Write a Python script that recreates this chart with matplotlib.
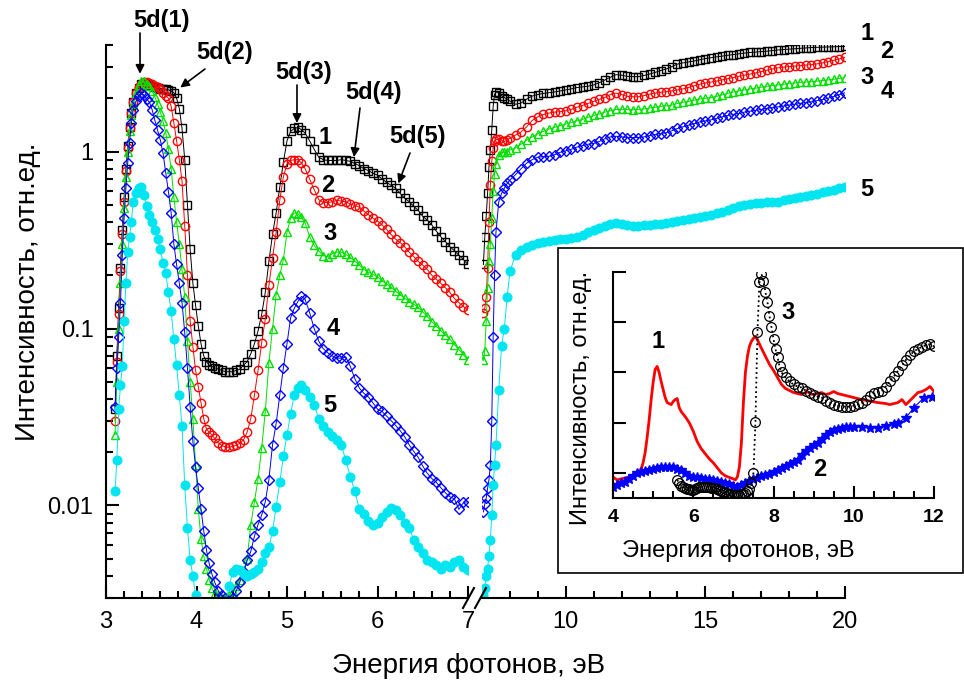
import matplotlib
matplotlib.use("Agg")
import matplotlib.pyplot as plt
from matplotlib.patches import Rectangle
from matplotlib.lines import Line2D
from matplotlib.ticker import LogLocator, FixedLocator, MultipleLocator, NullFormatter

plt.rcParams['font.family'] = ['Liberation Sans', 'DejaVu Sans']

# ---- main plot, low energy part (3 - 7 eV) ----
e_low = [3.10, 3.12, 3.14, 3.16, 3.18, 3.20, 3.22, 3.24, 3.26, 3.28, 3.30,
         3.33, 3.36, 3.39, 3.42, 3.45, 3.48, 3.51, 3.54, 3.57, 3.60,
         3.63, 3.66, 3.69, 3.72, 3.75, 3.78, 3.81, 3.84, 3.87, 3.90,
         3.93, 3.96, 3.99, 4.02, 4.05, 4.08, 4.11, 4.14, 4.17, 4.20,
         4.24, 4.28, 4.32, 4.36, 4.40, 4.44, 4.48, 4.52, 4.56, 4.60,
         4.64, 4.68, 4.72, 4.76, 4.80, 4.84, 4.88, 4.92, 4.96, 5.00,
         5.04, 5.08, 5.12, 5.16, 5.20,
         5.25, 5.30, 5.35, 5.40, 5.45, 5.50, 5.55, 5.60, 5.65, 5.70,
         5.75, 5.80, 5.85, 5.90, 5.95, 6.00, 6.05, 6.10, 6.15, 6.20,
         6.25, 6.30, 6.35, 6.40, 6.45, 6.50, 6.55, 6.60, 6.65, 6.70,
         6.75, 6.80, 6.85, 6.90, 6.95, 7.00]

i1_low = [0.035, 0.07, 0.13, 0.22, 0.36, 0.55, 0.80, 1.08, 1.38, 1.65, 1.90,
          2.15, 2.30, 2.40, 2.42, 2.40, 2.38, 2.35, 2.31, 2.28, 2.27,
          2.26, 2.25, 2.23, 2.20, 2.15, 2.00, 1.75, 1.35, 0.90, 0.50,
          0.28, 0.18, 0.135, 0.103, 0.082, 0.070, 0.065, 0.062, 0.061, 0.060,
          0.059, 0.058, 0.057, 0.057, 0.057, 0.058, 0.059, 0.062, 0.065, 0.072,
          0.082, 0.097, 0.12, 0.16, 0.24, 0.34, 0.45, 0.63, 0.87, 1.15,
          1.30, 1.35, 1.37, 1.33, 1.27,
          1.15, 1.03, 0.93, 0.90, 0.89, 0.89, 0.89, 0.90, 0.89, 0.88,
          0.855, 0.83, 0.80, 0.78, 0.755, 0.735, 0.70, 0.67, 0.645, 0.62,
          0.58, 0.545, 0.52, 0.49, 0.465, 0.43, 0.41, 0.385, 0.355, 0.33,
          0.31, 0.29, 0.275, 0.26, 0.245, 0.23]

i2_low = [0.03, 0.065, 0.12, 0.21, 0.34, 0.52, 0.78, 1.05, 1.35, 1.65, 1.90,
          2.15, 2.32, 2.42, 2.48, 2.46, 2.43, 2.40, 2.36, 2.32, 2.25,
          2.15, 2.07, 2.00, 1.80, 1.45, 1.15, 0.90, 0.68, 0.38, 0.20,
          0.11, 0.079, 0.058, 0.047, 0.038, 0.031, 0.027, 0.026, 0.025, 0.024,
          0.0226, 0.0218, 0.0214, 0.0213, 0.0216, 0.0219, 0.0225, 0.0235, 0.026, 0.031,
          0.042, 0.058, 0.083, 0.113, 0.175, 0.25, 0.35, 0.53, 0.72, 0.85,
          0.89, 0.90, 0.90, 0.86, 0.80,
          0.70, 0.61, 0.535, 0.515, 0.515, 0.52, 0.53, 0.525, 0.52, 0.505,
          0.495, 0.485, 0.46, 0.44, 0.42, 0.405, 0.385, 0.363, 0.34, 0.32,
          0.306, 0.29, 0.27, 0.255, 0.24, 0.228, 0.216, 0.20, 0.19, 0.18,
          0.17, 0.16, 0.148, 0.14, 0.133, 0.127]

i3_low = [0.025, 0.05, 0.10, 0.18, 0.30, 0.48, 0.72, 1.00, 1.30, 1.60, 1.85,
          2.15, 2.38, 2.52, 2.50, 2.42, 2.35, 2.20, 2.04, 1.85, 1.68,
          1.48, 1.28, 1.03, 0.80, 0.55, 0.40, 0.30, 0.216, 0.15, 0.085,
          0.05, 0.031, 0.017, 0.0095, 0.0065, 0.0052, 0.0044, 0.0038, 0.0034, 0.0032,
          0.0031, 0.0030, 0.0030, 0.0031, 0.0033, 0.0035, 0.0038, 0.0043, 0.0050, 0.0078,
          0.0105, 0.0141, 0.021, 0.034, 0.064, 0.10, 0.155, 0.20, 0.245, 0.35,
          0.42, 0.45, 0.445, 0.425, 0.395,
          0.33, 0.295, 0.275, 0.258, 0.255, 0.265, 0.27, 0.27, 0.262, 0.252,
          0.24, 0.228, 0.215, 0.208, 0.202, 0.196, 0.186, 0.178, 0.172, 0.162,
          0.155, 0.148, 0.142, 0.137, 0.132, 0.124, 0.117, 0.109, 0.103, 0.097,
          0.092, 0.087, 0.081, 0.076, 0.071, 0.066]

i4_low = [0.036, 0.06, 0.09, 0.14, 0.26, 0.42, 0.62, 0.86, 1.12, 1.45, 1.72,
          1.92, 2.06, 2.14, 2.08, 1.98, 1.90, 1.72, 1.50, 1.32, 1.16,
          0.98, 0.76, 0.59, 0.45, 0.30, 0.23, 0.18, 0.14, 0.095, 0.06,
          0.036, 0.023, 0.0165, 0.0125, 0.0095, 0.0072, 0.0056, 0.0047, 0.0041, 0.0037,
          0.0033, 0.0031, 0.0030, 0.0029, 0.0030, 0.0033, 0.0037, 0.0042, 0.0049, 0.0055,
          0.0067, 0.0078, 0.0088, 0.0105, 0.014, 0.022, 0.029, 0.042, 0.06, 0.082,
          0.115, 0.13, 0.142, 0.152, 0.146,
          0.123, 0.10, 0.085, 0.077, 0.073, 0.07, 0.068, 0.068, 0.069, 0.061,
          0.052, 0.046, 0.043, 0.041, 0.038, 0.035, 0.034, 0.032, 0.0302, 0.0283,
          0.0265, 0.0245, 0.022, 0.0202, 0.0187, 0.0167, 0.0152, 0.0142, 0.0135, 0.0126,
          0.0118, 0.0112, 0.0109, 0.0095, 0.0104, 0.0105]

i5_low = [0.012, 0.018, 0.035, 0.048, 0.061, 0.11, 0.18, 0.27, 0.33, 0.40, 0.52,
          0.58, 0.62, 0.63, 0.57, 0.49, 0.44, 0.40, 0.36, 0.32, 0.28,
          0.236, 0.205, 0.16, 0.125, 0.087, 0.062, 0.042, 0.028, 0.013, 0.0075,
          0.0049, 0.004, 0.0031, 0.0027, 0.0024, 0.0022, 0.0020, 0.0019, 0.0019, 0.0019,
          0.0020, 0.0023, 0.0028, 0.0035, 0.0042, 0.0044, 0.0043, 0.0041, 0.0040, 0.0041,
          0.0042, 0.0044, 0.0048, 0.0054, 0.0058, 0.0072, 0.0098, 0.0135, 0.019, 0.025,
          0.033, 0.042, 0.046, 0.048, 0.045,
          0.041, 0.037, 0.031, 0.028, 0.026, 0.0248, 0.0235, 0.022, 0.018, 0.0145,
          0.012, 0.0095, 0.009, 0.0082, 0.0078, 0.008, 0.0086, 0.0092, 0.0097, 0.0094,
          0.0088, 0.008, 0.0075, 0.0064, 0.0058, 0.0054, 0.0049, 0.0048, 0.0046, 0.0044,
          0.0046, 0.0045, 0.0048, 0.0049, 0.0045, 0.0043]

# ---- main plot, high energy part (7 - 20 eV) ----
e_high = [7.05, 7.10, 7.15, 7.20, 7.25, 7.30, 7.35, 7.40, 7.45, 7.50, 7.60, 7.70, 7.80, 7.90, 8.00,
          8.2, 8.4, 8.6, 8.8, 9.0, 9.2, 9.4, 9.6, 9.8, 10.0,
          10.2, 10.4, 10.6, 10.8, 11.0, 11.2, 11.4, 11.6, 11.8, 12.0,
          12.2, 12.4, 12.6, 12.8, 13.0, 13.2, 13.4, 13.6, 13.8, 14.0,
          14.2, 14.4, 14.6, 14.8, 15.0, 15.2, 15.4, 15.6, 15.8, 16.0,
          16.2, 16.4, 16.6, 16.8, 17.0, 17.2, 17.4, 17.6, 17.8, 18.0,
          18.2, 18.4, 18.6, 18.8, 19.0, 19.2, 19.4, 19.6, 19.8, 20.0]

i1_high = [0.23, 0.33, 0.43, 0.58, 0.82, 1.02, 1.33, 1.80, 2.10, 2.17, 2.15, 2.07, 2.02, 1.98, 1.93,
           1.85, 1.88, 1.98, 2.06, 2.10, 2.13, 2.15, 2.17, 2.20, 2.23,
           2.26, 2.30, 2.32, 2.34, 2.38, 2.45, 2.54, 2.63, 2.72, 2.70,
           2.66, 2.65, 2.65, 2.69, 2.74, 2.80, 2.87, 2.93, 3.02, 3.12,
           3.17, 3.21, 3.25, 3.30, 3.35, 3.39, 3.43, 3.46, 3.50, 3.53,
           3.57, 3.60, 3.63, 3.65, 3.67, 3.69, 3.72, 3.75, 3.77, 3.79,
           3.81, 3.83, 3.85, 3.87, 3.88, 3.89, 3.90, 3.91, 3.92, 3.93]

i2_high = [0.123, 0.13, 0.15, 0.22, 0.40, 0.65, 0.88, 1.05, 1.15, 1.17, 1.17, 1.15, 1.14, 1.16, 1.19,
           1.24, 1.29, 1.38, 1.50, 1.57, 1.62, 1.65, 1.67, 1.68, 1.70,
           1.73, 1.78, 1.82, 1.87, 1.92, 1.97, 2.02, 2.10, 2.14, 2.10,
           2.05, 2.04, 2.04, 2.07, 2.11, 2.14, 2.16, 2.18, 2.20, 2.23,
           2.26, 2.30, 2.35, 2.40, 2.44, 2.47, 2.50, 2.54, 2.58, 2.62,
           2.66, 2.70, 2.74, 2.78, 2.83, 2.88, 2.93, 2.97, 3.00, 3.02,
           3.04, 3.06, 3.08, 3.10, 3.13, 3.17, 3.22, 3.28, 3.34, 3.40]

i3_high = [0.066, 0.075, 0.11, 0.17, 0.24, 0.30, 0.42, 0.60, 0.75, 0.85, 0.95, 0.99, 0.99, 1.00, 1.02,
           1.05, 1.10, 1.16, 1.21, 1.26, 1.30, 1.34, 1.37, 1.40, 1.43,
           1.46, 1.49, 1.52, 1.56, 1.60, 1.63, 1.67, 1.70, 1.73, 1.73,
           1.73, 1.72, 1.73, 1.74, 1.76, 1.78, 1.80, 1.81, 1.83, 1.87,
           1.90, 1.92, 1.95, 1.98, 2.00, 2.02, 2.05, 2.09, 2.13, 2.17,
           2.20, 2.23, 2.26, 2.28, 2.31, 2.34, 2.36, 2.38, 2.40, 2.42,
           2.44, 2.46, 2.47, 2.48, 2.50, 2.52, 2.54, 2.56, 2.59, 2.62]

i4_high = [0.0092, 0.0102, 0.011, 0.0125, 0.014, 0.017, 0.03, 0.09, 0.20, 0.35, 0.52, 0.58, 0.62, 0.66, 0.69,
           0.74, 0.80, 0.86, 0.90, 0.93, 0.935, 0.94, 0.96, 0.99, 1.01,
           1.03, 1.06, 1.08, 1.10, 1.11, 1.14, 1.18, 1.21, 1.22, 1.21,
           1.20, 1.20, 1.20, 1.21, 1.23, 1.25, 1.26, 1.28, 1.31, 1.35,
           1.38, 1.41, 1.44, 1.47, 1.49, 1.51, 1.54, 1.57, 1.60, 1.62,
           1.64, 1.67, 1.69, 1.71, 1.73, 1.75, 1.77, 1.79, 1.81, 1.83,
           1.85, 1.87, 1.89, 1.91, 1.94, 1.97, 2.00, 2.05, 2.10, 2.15]

i5_high = [0.0031, 0.0034, 0.0040, 0.0044, 0.0052, 0.0064, 0.0088, 0.013, 0.017, 0.022, 0.045, 0.08, 0.10, 0.15, 0.21,
           0.26, 0.278, 0.29, 0.298, 0.303, 0.308, 0.313, 0.317, 0.32, 0.322,
           0.325, 0.33, 0.338, 0.35, 0.36, 0.37, 0.38, 0.39, 0.395, 0.39,
           0.385, 0.38, 0.382, 0.385, 0.387, 0.388, 0.39, 0.393, 0.398, 0.403,
           0.41, 0.415, 0.42, 0.428, 0.435, 0.44, 0.447, 0.455, 0.465, 0.478,
           0.49, 0.50, 0.505, 0.51, 0.515, 0.518, 0.52, 0.522, 0.53, 0.54,
           0.548, 0.555, 0.563, 0.57, 0.578, 0.588, 0.598, 0.61, 0.62, 0.63]

# ---- inset ----
ins_e1 = [4.0, 4.1, 4.2, 4.3, 4.4, 4.5, 4.6, 4.7, 4.75, 4.8, 4.85, 4.9, 4.95, 5.0, 5.05, 5.1, 5.15, 5.2,
          5.25, 5.3, 5.35, 5.4, 5.45, 5.5, 5.55, 5.6, 5.65, 5.7, 5.8, 5.9, 6.0, 6.1, 6.2, 6.3, 6.4,
          6.5, 6.6, 6.7, 6.8, 6.9, 7.0, 7.05, 7.1, 7.15, 7.2, 7.25, 7.3, 7.35, 7.4, 7.45, 7.5, 7.55,
          7.6, 7.7, 7.8, 7.9, 8.0, 8.1, 8.2, 8.3, 8.4, 8.5, 8.6, 8.7, 8.8, 8.85, 8.9, 9.0, 9.1, 9.2,
          9.3, 9.4, 9.5, 9.6, 9.7, 9.8, 9.9, 10.0, 10.2, 10.4, 10.6, 10.8, 10.9, 11.0, 11.1, 11.2,
          11.3, 11.4, 11.5, 11.6, 11.7, 11.8, 11.9, 12.0]
ins_i1 = [0.42, 0.36, 0.38, 0.40, 0.42, 0.45, 0.50, 0.58, 0.70, 0.90, 1.20, 1.55, 1.95, 2.30, 2.56, 2.62, 2.50, 2.32,
          2.16, 2.00, 1.90, 1.88, 1.86, 1.92, 1.96, 1.98, 1.80, 1.72, 1.62, 1.50, 1.33, 1.12, 0.98, 0.88, 0.78,
          0.70, 0.60, 0.50, 0.44, 0.41, 0.38, 0.36, 0.42, 0.62, 1.10, 1.90, 2.50, 2.82, 3.02, 3.12, 3.18, 3.22,
          3.15, 2.98, 2.82, 2.66, 2.54, 2.40, 2.26, 2.18, 2.14, 2.10, 2.08, 2.06, 2.10, 2.12, 2.08, 2.06, 2.08, 2.10,
          2.06, 2.08, 2.12, 2.08, 2.06, 2.04, 2.02, 2.00, 1.96, 1.93, 1.90, 1.88, 1.86, 1.88, 1.90, 1.96,
          1.86, 1.94, 2.02, 2.10, 2.12, 2.16, 2.22, 2.12]

ins_e2 = [4.0, 4.1, 4.2, 4.3, 4.4, 4.5, 4.6, 4.7, 4.8, 4.9, 5.0, 5.1, 5.2, 5.3, 5.4, 5.5, 5.6, 5.7,
          5.8, 5.9, 6.0, 6.1, 6.2, 6.3, 6.4, 6.5, 6.6, 6.7, 6.8, 6.9, 7.0, 7.1, 7.2, 7.3, 7.4, 7.5,
          7.6, 7.7, 7.8, 7.9, 8.0, 8.1, 8.2, 8.3, 8.4, 8.5, 8.6, 8.7, 8.8, 8.9, 9.0, 9.1, 9.2, 9.3,
          9.4, 9.5, 9.6, 9.7, 9.8, 9.9, 10.0, 10.2, 10.4, 10.6, 10.8, 11.0, 11.1, 11.3, 11.5, 11.75, 11.95]
ins_i2 = [0.22, 0.26, 0.29, 0.32, 0.37, 0.44, 0.50, 0.52, 0.54, 0.56, 0.58, 0.60, 0.62, 0.62, 0.62, 0.61, 0.58, 0.55,
          0.50, 0.44, 0.42, 0.41, 0.40, 0.38, 0.37, 0.36, 0.34, 0.32, 0.30, 0.27, 0.24, 0.22, 0.26, 0.30, 0.33, 0.37,
          0.40, 0.43, 0.45, 0.48, 0.52, 0.56, 0.60, 0.64, 0.68, 0.72, 0.76, 0.86, 0.94, 1.00, 1.05, 1.10, 1.18, 1.25,
          1.31, 1.35, 1.38, 1.40, 1.41, 1.42, 1.42, 1.42, 1.40, 1.40, 1.43, 1.47, 1.50, 1.60, 1.80, 2.00, 2.02]

ins_e3 = [5.6, 5.65, 5.7, 5.75, 5.8, 5.85, 5.9, 5.95, 6.0, 6.05, 6.1, 6.15, 6.2, 6.25, 6.3, 6.35, 6.4, 6.45,
          6.5, 6.55, 6.6, 6.65, 6.7, 6.75, 6.8, 6.85, 6.9, 6.95, 7.0, 7.05, 7.1, 7.15, 7.2, 7.25, 7.3, 7.35,
          7.4, 7.45, 7.5, 7.55, 7.6, 7.65, 7.7, 7.75, 7.8, 7.85, 7.9, 7.95, 8.0, 8.05, 8.1, 8.15, 8.2, 8.3,
          8.4, 8.5, 8.6, 8.7, 8.8, 8.9, 9.0, 9.1, 9.2, 9.3, 9.4, 9.5, 9.6, 9.7, 9.8, 9.9, 10.0, 10.1,
          10.2, 10.3, 10.4, 10.5, 10.6, 10.7, 10.8, 10.9, 11.0, 11.1, 11.2, 11.3, 11.4, 11.5, 11.6, 11.7,
          11.8, 11.9, 12.0]
ins_i3 = [0.36, 0.30, 0.24, 0.22, 0.20, 0.18, 0.17, 0.16, 0.16, 0.18, 0.20, 0.21, 0.22, 0.22, 0.21, 0.22, 0.21, 0.20,
          0.20, 0.19, 0.17, 0.16, 0.14, 0.12, 0.11, 0.10, 0.08, 0.07, 0.06, 0.06, 0.06, 0.06, 0.07, 0.08, 0.10, 0.13,
          0.18, 0.30, 0.50, 1.52, 3.30, 4.30, 4.46, 4.32, 4.10, 3.90, 3.62, 3.40, 3.16, 2.96, 2.80, 2.62, 2.50, 2.40,
          2.32, 2.26, 2.22, 2.20, 2.14, 2.10, 2.06, 2.02, 2.00, 1.94, 1.90, 1.86, 1.84, 1.82, 1.82, 1.82, 1.84, 1.87,
          1.90, 1.96, 2.03, 2.10, 2.12, 2.14, 2.22, 2.32, 2.42, 2.53, 2.64, 2.75, 2.84, 2.92, 2.97, 3.01,
          3.05, 3.06, 3.02]

W, H = 964, 690


def fx(x):
    return x / W


def fy(y):
    return 1 - y / H


fig = plt.figure(figsize=(W / 100, H / 100), dpi=100)

ax1 = fig.add_axes([fx(106), fy(598), (468 - 106) / W, (598 - 45) / H])
ax2 = fig.add_axes([fx(482), fy(598), (845 - 482) / W, (598 - 45) / H])

styles = [
    dict(color='black', marker='s', mfc='none', ms=5.3),
    dict(color='#ff0000', marker='o', mfc='none', ms=6.0),
    dict(color='#00e000', marker='^', mfc='none', ms=6.4),
    dict(color='#0000ff', marker='D', mfc='none', ms=5.6),
    dict(color='#00e5f0', marker='o', mfc='#00e5f0', ms=6.2),
]
lows = [i1_low, i2_low, i3_low, i4_low, i5_low]
highs = [i1_high, i2_high, i3_high, i4_high, i5_high]

for st, yl, yh in zip(styles, lows, highs):
    c = st['color']
    ax1.plot(e_low, yl, color=c, marker=st['marker'], mfc=st['mfc'], mec=c,
             ms=st['ms'], mew=1.0, lw=0.7)
    ax2.plot(e_high, yh, color=c, marker=st['marker'], mfc=st['mfc'], mec=c,
             ms=st['ms'], mew=1.0, lw=0.7)

for ax in (ax1, ax2):
    ax.set_yscale('log')
    ax.set_ylim(0.003, 4.0)
    ax.patch.set_alpha(0)
    ax.spines['top'].set_visible(False)
    ax.spines['right'].set_visible(False)
    for s in ax.spines.values():
        s.set_linewidth(1.5)
    ax.tick_params(axis='both', which='both', direction='in', width=1.5, labelsize=17)
    ax.tick_params(which='major', length=9)
    ax.tick_params(which='minor', length=5)
    ax.tick_params(axis='x', pad=9)

ax1.set_xlim(3, 7)
ax1.xaxis.set_major_locator(FixedLocator([3, 4, 5, 6, 7]))
ax1.xaxis.set_minor_locator(MultipleLocator(0.2))
ax1.yaxis.set_major_locator(FixedLocator([0.01, 0.1, 1]))
ax1.set_yticklabels(['0.01', '0.1', '1'])
ax1.yaxis.set_minor_locator(LogLocator(base=10, subs=range(2, 10)))
ax1.yaxis.set_minor_formatter(NullFormatter())
ax1.tick_params(axis='y', pad=9)

ax2.set_xlim(7, 20)
ax2.xaxis.set_major_locator(FixedLocator([10, 15, 20]))
ax2.xaxis.set_minor_locator(FixedLocator(list(range(8, 20))))
ax2.spines['left'].set_visible(False)
ax2.tick_params(axis='y', which='both', left=False, labelleft=False)

# axis break marks
for x0 in (463, 475):
    fig.add_artist(Line2D([fx(x0), fx(x0 + 11)], [fy(608), fy(588)], color='black', lw=1.5))

fig.text(fx(28), fy(292), 'Интенсивность, отн.ед.', rotation=90, fontsize=20,
         ha='center', va='center')
fig.text(fx(469), fy(666), 'Энергия фотонов, эВ', fontsize=20, ha='center', va='center')

# peak annotations
notes = [('5d(1)', (162, 20), (140, 33), (3.376, 2.75)),
         ('5d(2)', (225, 53), (205, 69), (3.82, 2.3)),
         ('5d(3)', (304, 72), (297, 85), (5.11, 1.45)),
         ('5d(4)', (373, 92), (360, 108), (5.74, 0.93)),
         ('5d(5)', (418, 137), (410, 153), (6.23, 0.66))]
for txt, tpos, tail, tip in notes:
    fig.text(fx(tpos[0]), fy(tpos[1]), txt, fontsize=17, fontweight='bold',
             ha='center', va='center')
    ax1.annotate('', xy=tip, xycoords='data', xytext=(fx(tail[0]), fy(tail[1])),
                 textcoords='figure fraction',
                 arrowprops=dict(arrowstyle='-|>', color='black', lw=1.2,
                                 mutation_scale=13, shrinkA=0, shrinkB=0))

curve_labels = [('1', 325, 138), ('2', 328, 185), ('3', 330, 233), ('4', 333, 328),
                ('5', 330, 405), ('1', 867, 33), ('2', 887, 52), ('3', 867, 77),
                ('4', 887, 92), ('5', 867, 190)]
for txt, x, y in curve_labels:
    fig.text(fx(x), fy(y), txt, fontsize=17, fontweight='bold', ha='center', va='center')

# inset frame and inset axes
frame = Rectangle((fx(558), fy(573)), (963 - 558) / W, (573 - 248) / H,
                  transform=fig.transFigure, facecolor='white', edgecolor='black',
                  lw=1.2, zorder=3)
fig.add_artist(frame)

ax3 = fig.add_axes([fx(613), fy(498), (934 - 613) / W, (498 - 272) / H])
ax3.set_zorder(5)
ax3.patch.set_alpha(0)
ax3.plot(ins_e1, ins_i1, color='#ff0000', lw=2.0)
ax3.plot(ins_e2, ins_i2, color='#0000ff', lw=0.8, marker='*', ms=7.5, mec='#0000ff', mfc='#0000ff')
ax3.plot(ins_e3, ins_i3, color='black', ls=':', lw=1.3, marker='o', ms=7, mfc='none', mew=0.9)
ax3.set_xlim(4, 12)
ax3.set_ylim(0, 4.5)
ax3.spines['top'].set_visible(False)
ax3.spines['right'].set_visible(False)
for s in ax3.spines.values():
    s.set_linewidth(1.5)
ax3.xaxis.set_major_locator(FixedLocator([4, 6, 8, 10, 12]))
ax3.xaxis.set_minor_locator(MultipleLocator(0.5))
ax3.yaxis.set_major_locator(FixedLocator([0.5, 1.5, 2.5, 3.5, 4.5]))
ax3.set_yticklabels([])
ax3.tick_params(axis='both', which='both', direction='in', width=1.5)
ax3.tick_params(which='major', length=9)
ax3.tick_params(which='minor', length=5)
ax3.tick_params(axis='x', labelsize=14, pad=8)
for lab in ax3.get_xticklabels():
    lab.set_fontweight('bold')
fig.text(fx(738), fy(551), 'Энергия фотонов, эВ', fontsize=17, ha='center', va='center', zorder=6)
fig.text(fx(581), fy(398), 'Интенсивность, отн.ед.', rotation=90, fontsize=17,
         ha='center', va='center', zorder=6)
for txt, x, y in [('1', 658, 341), ('3', 788, 312), ('2', 820, 470)]:
    fig.text(fx(x), fy(y), txt, fontsize=17, fontweight='bold', ha='center', va='center', zorder=6)

fig.savefig('out.png', dpi=100)
